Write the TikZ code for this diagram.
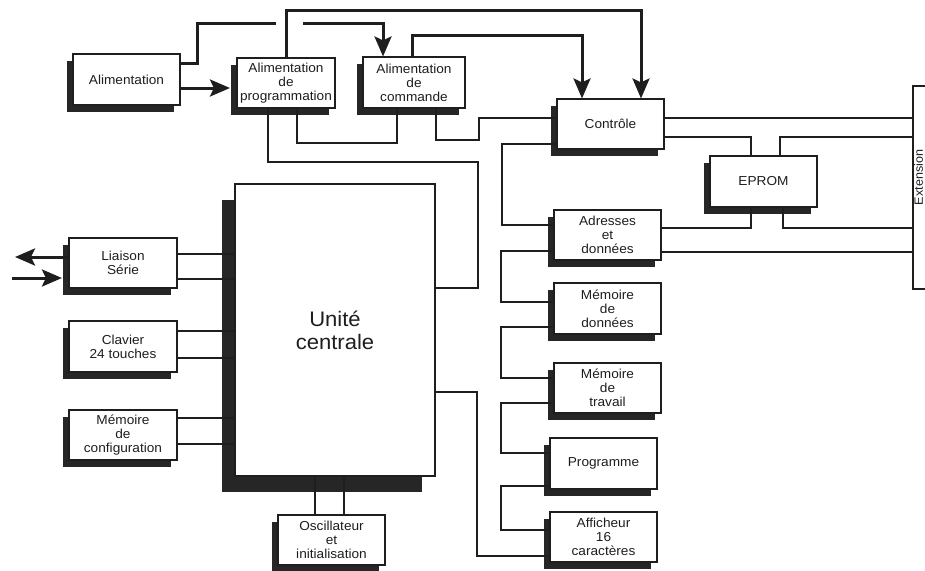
\documentclass[tikz,border=0pt]{standalone}
\usepackage{fontspec}
\setmainfont{Liberation Sans}[FakeStretch=1.05]
\usepackage{graphicx}
\usetikzlibrary{shadows,arrows.meta}
\definecolor{ink}{HTML}{1E1E1E}
\definecolor{shade}{HTML}{262626}
\begin{document}
\begin{tikzpicture}[x=1pt,y=-1pt,
  boxbase/.style={draw=ink, line width=1.1pt, fill=white, align=center, inner sep=1pt,
     font=\fontsize{13}{14}\selectfont, text=ink},
  box/.style={boxbase, general shadow={fill=shade, shadow xshift=-6.5pt, shadow yshift=-6.5pt}},
  bigbox/.style={boxbase, font=\fontsize{21}{23}\selectfont,
     general shadow={fill=shade, shadow xshift=-13pt, shadow yshift=-16pt}},
  wire/.style={draw=ink, line width=1.1pt},
  bus/.style={draw=ink, line width=3pt},
  busarrow/.style={bus, -{Stealth[length=20pt,width=17pt,inset=4pt]}},
]
\useasboundingbox (0,0) rectangle (925,570);
\fill[white] (0,0) rectangle (925,570);

% nodes
\node[box, minimum width=107pt, minimum height=51pt] (alim) at (126.5,79.5) {Alimentation};
\node[box, minimum width=98pt, minimum height=50pt] (aprog) at (286,83) {Alimentation\\de\\programmation};
\node[box, minimum width=102pt, minimum height=51pt] (acmd) at (414,82.5) {Alimentation\\de\\commande};
\node[box, minimum width=107pt, minimum height=50pt] (ctrl) at (610.5,124) {Contrôle};
\node[box, minimum width=107pt, minimum height=51pt] (eprom) at (763.5,181.5) {EPROM};
\node[box, minimum width=107pt, minimum height=50pt] (adr) at (607.5,235) {Adresses\\et\\données};
\node[box, minimum width=107pt, minimum height=51pt] (mdon) at (607.5,308.5) {Mémoire\\de\\données};
\node[box, minimum width=107pt, minimum height=50pt] (mtrav) at (607.5,388) {Mémoire\\de\\travail};
\node[box, minimum width=107pt, minimum height=51pt] (prog) at (603.5,463.5) {Programme};
\node[box, minimum width=107pt, minimum height=50pt] (aff) at (603.5,537) {Afficheur\\16\\caractères};
\node[bigbox, minimum width=200pt, minimum height=292pt] (uc) at (335,330) {Unité\\centrale};
\node[box, minimum width=108pt, minimum height=50pt] (ls) at (123,263) {Liaison\\Série};
\node[box, minimum width=108pt, minimum height=51pt] (clav) at (123,346.5) {Clavier\\24 touches};
\node[box, minimum width=108pt, minimum height=50pt] (mcfg) at (123,435) {Mémoire\\de\\configuration};
\node[box, minimum width=107pt, minimum height=50pt] (osc) at (331.5,540) {Oscillateur\\et\\initialisation};
\node[boxbase, font=\fontsize{12}{13}\selectfont, minimum width=24pt, minimum height=203pt, inner sep=0pt]
   (ext) at (925,187.5) {\rotatebox{90}{\hspace{20pt}Extension}\hspace{13pt}};

% thick power lines
\draw[busarrow, shorten >=6.5pt] (alim.east |- 0,88) -- (aprog.west |- 0,88);
\coordinate (gapL) at (276,23);
\coordinate (gapR) at (303,23);
\draw[bus] (alim.east |- 0,63) -| (197,23) -- (gapL);
\draw[busarrow] (gapR) -| (acmd.north -| 383,0);
\draw[busarrow] (aprog.north) |- (390,10) -| (ctrl.north -| 641,0);
\draw[busarrow] (acmd.north -| 412,0) |- (500,35) -| (ctrl.north -| 582,0);

% thin wires top
\draw[wire] (aprog.south -| 297,0) |- (350,143) -| (acmd.south -| 397,0);
\draw[wire] (aprog.south -| 268,0) |- (478,162) |- (uc.east |- 0,288);
\draw[wire] (acmd.south -| 436,0) |- (479,140) |- (ctrl.west |- 0,118);
\draw[wire] (ctrl.west |- 0,144) -| (502,225) -- (adr.west |- 0,225);

% memory chain
\draw[wire] (adr.west |- 0,251) -| (501,302) -- (mdon.west |- 0,302);
\draw[wire] (mdon.west |- 0,327) -| (501,378) -- (mtrav.west |- 0,378);
\draw[wire] (mtrav.west |- 0,403) -| (501,453) -- (prog.west |- 0,453);
\draw[wire] (prog.west |- 0,486) -| (501,530) -- (aff.west |- 0,530);
\draw[wire] (uc.east |- 0,392) -| (477,556) -- (aff.west |- 0,556);

% right side
\draw[wire] (ctrl.east |- 0,118) -- (ext.west |- 0,118);
\draw[wire] (ctrl.east |- 0,137) -| (eprom.north -| 751,0);
\draw[wire] (ext.west |- 0,137) -| (eprom.north -| 780,0);
\draw[wire] (eprom.south -| 751,0) |- (adr.east |- 0,228);
\draw[wire] (eprom.south -| 783,0) |- (ext.west |- 0,228);
\draw[wire] (adr.east |- 0,252) -- (ext.west |- 0,252);

% left side
\draw[wire] (ls.east |- 0,254) -- (uc.west |- 0,254);
\draw[wire] (ls.east |- 0,279) -- (uc.west |- 0,279);
\draw[wire] (clav.east |- 0,331) -- (uc.west |- 0,331);
\draw[wire] (clav.east |- 0,358) -- (uc.west |- 0,358);
\draw[wire] (mcfg.east |- 0,418) -- (uc.west |- 0,418);
\draw[wire] (mcfg.east |- 0,444) -- (uc.west |- 0,444);
\draw[wire] (uc.south -| 315,0) -- (osc.north -| 315,0);
\draw[wire] (uc.south -| 344,0) -- (osc.north -| 344,0);

\coordinate (outL) at (15,257);
\coordinate (inL) at (12,278);
\draw[busarrow] (ls.west |- 0,257) -- (outL);
\draw[busarrow, shorten >=6.5pt] (inL) -- (ls.west |- 0,278);
\end{tikzpicture}
\end{document}
